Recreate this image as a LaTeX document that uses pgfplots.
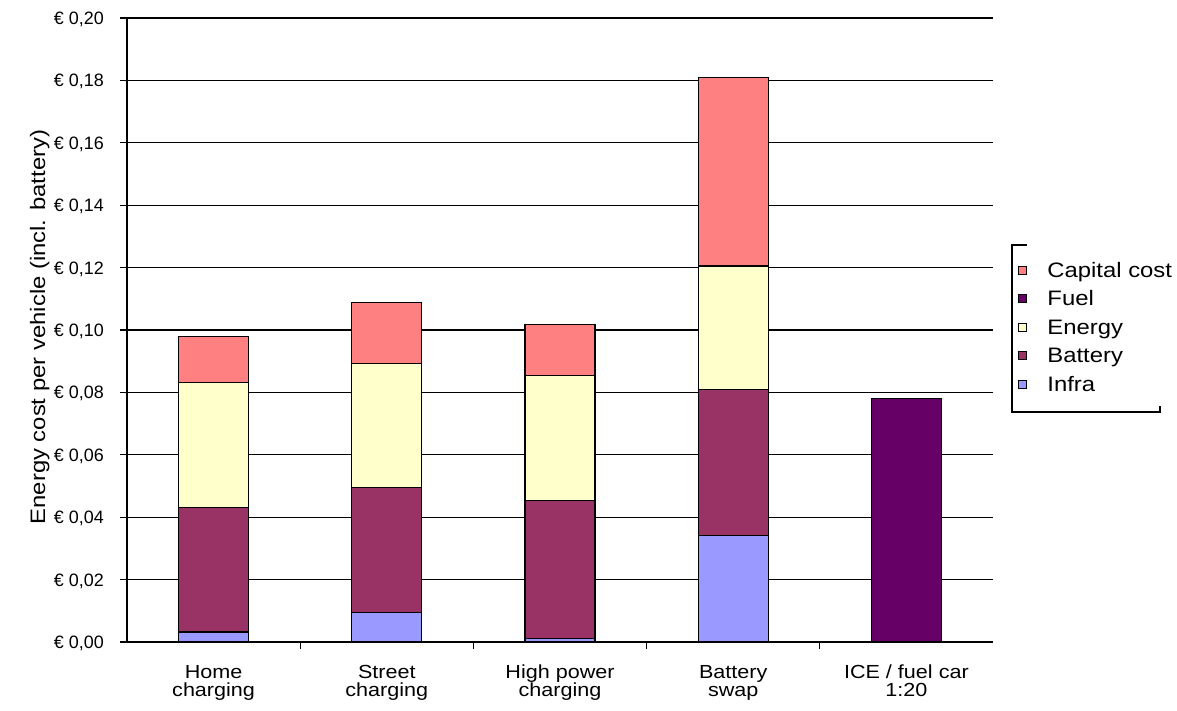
\documentclass[border=0pt]{standalone}
\usepackage{fontspec}
\setmainfont{Liberation Sans}
\newfontfamily\wide[FakeStretch=1.14]{Liberation Sans}
\usepackage{pgfplots}
\pgfplotsset{compat=1.18}
\definecolor{cInfra}{HTML}{9999FF}
\definecolor{cBattery}{HTML}{993366}
\definecolor{cEnergy}{HTML}{FFFFCC}
\definecolor{cFuel}{HTML}{660066}
\definecolor{cCapital}{HTML}{FF8080}
\begin{document}
\begin{tikzpicture}
\path[use as bounding box] (-127bp,-69bp) rectangle (1050bp,642bp);
\begin{axis}[
  scale only axis, width=866bp, height=624bp,
  at={(0,0)}, anchor=south west,
  xmin=-0.5, xmax=4.5, ymin=0, ymax=0.2,
  axis lines*=left,
  ybar stacked, bar width=70bp,
  ytick={0,0.02,0.04,0.06,0.08,0.1,0.12,0.14,0.16,0.18,0.2},
  ymajorgrids, grid style={black, line width=1.1pt},
  axis line style={black, line width=1.2pt},
  tick align=outside, major tick length=7bp,
  tick style={black, line width=1.2pt},
  xtick={0.5,1.5,2.5,3.5}, xticklabels={},
  extra x ticks={0,1,2,3,4},
  extra x tick labels={{Home\\charging},{Street\\charging},{High power\\charging},{Battery\\swap},{ICE / fuel car\\1:20}},
  extra x tick style={major tick length=0pt},
  xticklabel style={font=\fontsize{19}{18}\selectfont\wide, align=center, anchor=north, inner sep=0pt, yshift=-23bp},
  /pgf/number format/assume math mode=true,
  yticklabel={€ \pgfmathprintnumber[fixed, fixed zerofill, precision=2, use comma]{\tick}},
  yticklabel style={font=\fontsize{18}{20}\selectfont, anchor=east, inner sep=0pt, text height=13bp, text depth=0pt, xshift=-16bp},
  every axis y label/.style={at={(axis description cs:-0.0945,0.5048)}, rotate=90, anchor=base, font=\fontsize{21}{24}\selectfont\wide},
  ylabel={Energy cost per vehicle (incl. battery)},
  every axis plot/.append style={draw=black, line width=1.1pt},
  reverse legend,
  legend image code/.code={\draw[#1,draw=black,line width=0.8pt] (0bp,-4bp) rectangle (8bp,4bp); \path[draw=none,fill=none] (8bp,0bp) -- (29bp,0bp);},
  legend style={draw=none, fill=none, inner sep=0pt, outer sep=0pt, column sep=0pt, row sep=13.5bp,
    at={(axis description cs:1.0289,0.6082)}, anchor=north west,
    nodes={inner sep=0pt, text height=15bp, text depth=0pt, anchor=west, font=\fontsize{21}{24}\selectfont\wide}},
  legend cell align=left,
]
\addplot[fill=cInfra] coordinates {(0,0.0032) (1,0.0095) (2,0.0011) (3,0.0341) (4,0)};
\addlegendentry{Infra}
\addplot[fill=cBattery] coordinates {(0,0.0399) (1,0.0399) (2,0.0443) (3,0.0468) (4,0)};
\addlegendentry{Battery}
\addplot[fill=cEnergy] coordinates {(0,0.0400) (1,0.0399) (2,0.0399) (3,0.0396) (4,0)};
\addlegendentry{Energy}
\addplot[fill=cFuel] coordinates {(0,0) (1,0) (2,0) (3,0) (4,0.0781)};
\addlegendentry{Fuel}
\addplot[fill=cCapital] coordinates {(0,0.0147) (1,0.0195) (2,0.0164) (3,0.0604) (4,0)};
\addlegendentry{Capital cost}
\end{axis}
\draw[black, line width=1.1pt] (900bp,397bp) -- (885bp,397bp) -- (885bp,230bp) -- (1033bp,230bp) -- (1033bp,236bp);
\end{tikzpicture}
\end{document}
